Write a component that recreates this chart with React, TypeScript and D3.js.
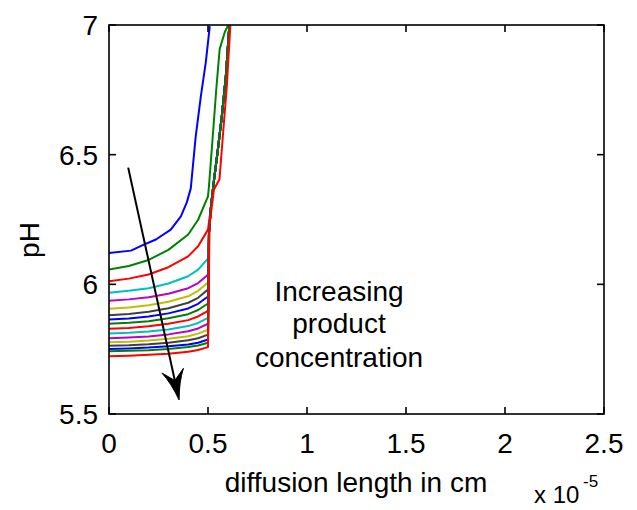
import React from "react";
import * as d3 from "d3";

// ---- data ----
const xTicks = [0, 0.5, 1, 1.5, 2, 2.5];
const xTickLabels = ["0", "0.5", "1", "1.5", "2", "2.5"];
const yTicks = [5.5, 6, 6.5, 7];
const yTickLabels = ["5.5", "6", "6.5", "7"];

const colors = ["#0000FF", "#008000", "#FF0000", "#00BFBF", "#BF00BF", "#BFBF00", "#404040"];

// top (blue) curve
const blueX = [0, 0.111, 0.176, 0.237, 0.312, 0.363, 0.393, 0.413, 0.438, 0.464, 0.489, 0.509];
const bluePH = [6.121, 6.13, 6.153, 6.173, 6.211, 6.262, 6.316, 6.37, 6.571, 6.726, 6.857, 6.996];

// remaining curves: gradual part
const gradX = [0, 0.1, 0.2, 0.3, 0.4, 0.45, 0.5];
const gradPH = [
  [6.057, 6.071, 6.094, 6.133, 6.192, 6.249, 6.339],
  [6.012, 6.022, 6.038, 6.066, 6.108, 6.147, 6.211],
  [5.968, 5.975, 5.985, 6.003, 6.031, 6.057, 6.099],
  [5.937, 5.942, 5.95, 5.964, 5.985, 6.005, 6.037],
  [5.906, 5.911, 5.919, 5.933, 5.954, 5.975, 6.007],
  [5.881, 5.886, 5.894, 5.908, 5.929, 5.948, 5.98],
  [5.864, 5.868, 5.876, 5.888, 5.907, 5.925, 5.953],
  [5.848, 5.852, 5.858, 5.869, 5.885, 5.901, 5.926],
  [5.829, 5.832, 5.838, 5.848, 5.862, 5.876, 5.898],
  [5.81, 5.813, 5.818, 5.826, 5.839, 5.851, 5.871],
  [5.792, 5.795, 5.799, 5.807, 5.819, 5.83, 5.848],
  [5.777, 5.779, 5.783, 5.79, 5.8, 5.81, 5.825],
  [5.763, 5.765, 5.769, 5.775, 5.784, 5.792, 5.806],
  [5.751, 5.753, 5.756, 5.761, 5.768, 5.775, 5.787],
  [5.742, 5.744, 5.746, 5.751, 5.758, 5.764, 5.775],
  [5.723, 5.725, 5.728, 5.732, 5.74, 5.747, 5.758],
];

// steep rise paths
const leftSteepX = [0.505, 0.524, 0.543, 0.559, 0.585, 0.602];
const leftSteepPH = [6.38, 6.571, 6.764, 6.907, 6.973, 7.0];
const midSteepX = [0.505, 0.515, 0.53, 0.55, 0.57, 0.59, 0.608];
const midSteepPH = [6.2, 6.3, 6.4, 6.52, 6.65, 6.8, 7.0];
const rightSteepX = [0.508, 0.53, 0.558, 0.575, 0.595, 0.613];
const rightSteepPH = [6.23, 6.366, 6.405, 6.571, 6.764, 7.0];
const steepAssign = ["left", "mid", "mid", "mid", "mid", "mid", "mid", "mid", "mid", "mid", "mid", "mid", "mid", "mid", "mid", "right"];

// annotation arrow (data coordinates)
const arrowFrom = [0.097, 6.45];
const arrowTo = [0.354, 5.554];

const W = 637;
const H = 510;
const M = { left: 109, right: 604, top: 25, bottom: 414 };
const FONT = "'Liberation Sans', Arial, sans-serif";

export default function App() {
  const x = d3.scaleLinear().domain([0, 2.5]).range([M.left, M.right]);
  const y = d3.scaleLinear().domain([5.5, 7]).range([M.bottom, M.top]);
  const line = d3
    .line<number[]>()
    .x((d) => x(d[0]))
    .y((d) => y(d[1]));

  const steep: Record<string, [number[], number[]]> = {
    left: [leftSteepX, leftSteepPH],
    mid: [midSteepX, midSteepPH],
    right: [rightSteepX, rightSteepPH],
  };

  const curves: { pts: number[][]; color: string }[] = [];
  curves.push({ pts: blueX.map((v, i) => [v, bluePH[i]]), color: colors[0] });
  gradPH.forEach((row, i) => {
    const pts = gradX.map((v, j) => [v, row[j]]);
    const last = row[row.length - 1];
    const [sx, sy] = steep[steepAssign[i]];
    sx.forEach((v, j) => {
      if (sy[j] > last) pts.push([v, sy[j]]);
    });
    curves.push({ pts, color: colors[(i + 1) % colors.length] });
  });

  // arrow geometry
  const S = [x(arrowFrom[0]), y(arrowFrom[1])];
  const T = [x(arrowTo[0]), y(arrowTo[1])];
  const dx = T[0] - S[0];
  const dy = T[1] - S[1];
  const len = Math.hypot(dx, dy);
  const u = [dx / len, dy / len];
  const n = [-u[1], u[0]];
  const L = 30;
  const hw = 11;
  const notch = 20;
  const b1 = [T[0] - u[0] * L + n[0] * hw, T[1] - u[1] * L + n[1] * hw];
  const b2 = [T[0] - u[0] * L - n[0] * hw, T[1] - u[1] * L - n[1] * hw];
  const nb = [T[0] - u[0] * notch, T[1] - u[1] * notch];
  const head = `M${T[0]},${T[1]} Q${T[0] - u[0] * 18 + n[0] * 4},${T[1] - u[1] * 18 + n[1] * 4} ${b1[0]},${b1[1]} L${nb[0]},${nb[1]} L${b2[0]},${b2[1]} Q${T[0] - u[0] * 18 - n[0] * 4},${T[1] - u[1] * 18 - n[1] * 4} ${T[0]},${T[1]} Z`;

  const tickLen = 7;

  return (
    <svg width={W} height={H} style={{ position: "absolute", left: 0, top: 0, background: "#fff" }}>
      <rect x={0} y={0} width={W} height={H} fill="#fff" />
      <defs>
        <clipPath id="plotclip">
          <rect x={M.left} y={M.top} width={M.right - M.left} height={M.bottom - M.top} />
        </clipPath>
      </defs>
      <g clipPath="url(#plotclip)">
        {curves.map((c, i) => (
          <path key={i} d={line(c.pts) || ""} fill="none" stroke={c.color} strokeWidth={2} strokeLinejoin="round" />
        ))}
      </g>
      {/* arrow */}
      <line x1={S[0]} y1={S[1]} x2={nb[0]} y2={nb[1]} stroke="#000" strokeWidth={2} />
      <path d={head} fill="#000" stroke="#000" strokeWidth={1} />

      {/* frame */}
      <rect x={M.left} y={M.top} width={M.right - M.left} height={M.bottom - M.top} fill="none" stroke="#000" strokeWidth={1.6} />
      {xTicks.map((t, i) => (
        <g key={"xt" + i}>
          <line x1={x(t)} x2={x(t)} y1={M.bottom} y2={M.bottom - tickLen} stroke="#000" strokeWidth={1.6} />
          <line x1={x(t)} x2={x(t)} y1={M.top} y2={M.top + tickLen} stroke="#000" strokeWidth={1.6} />
          <text x={x(t)} y={453} textAnchor="middle" fontFamily={FONT} fontSize={28} fill="#000">
            {xTickLabels[i]}
          </text>
        </g>
      ))}
      {yTicks.map((t, i) => (
        <g key={"yt" + i}>
          <line x1={M.left} x2={M.left + tickLen} y1={y(t)} y2={y(t)} stroke="#000" strokeWidth={1.6} />
          <line x1={M.right} x2={M.right - tickLen} y1={y(t)} y2={y(t)} stroke="#000" strokeWidth={1.6} />
          <text x={98} y={y(t) + 10} textAnchor="end" fontFamily={FONT} fontSize={28} fill="#000">
            {yTickLabels[i]}
          </text>
        </g>
      ))}
      <text x={356} y={492} textAnchor="middle" fontFamily={FONT} fontSize={28} fill="#000">
        diffusion length in cm
      </text>
      <text transform={`translate(39,240) rotate(-90)`} textAnchor="middle" fontFamily={FONT} fontSize={28} fill="#000">
        pH
      </text>
      <text x={534} y={503} fontFamily={FONT} fontSize={24} fill="#000">
        x 10
      </text>
      <text x={583} y={487} fontFamily={FONT} fontSize={17} fill="#000">
        -5
      </text>
      <g fontFamily={FONT} fontSize={28} fill="#000" textAnchor="middle">
        <text x={339} y={301}>Increasing</text>
        <text x={339} y={333}>product</text>
        <text x={339} y={367}>concentration</text>
      </g>
    </svg>
  );
}
